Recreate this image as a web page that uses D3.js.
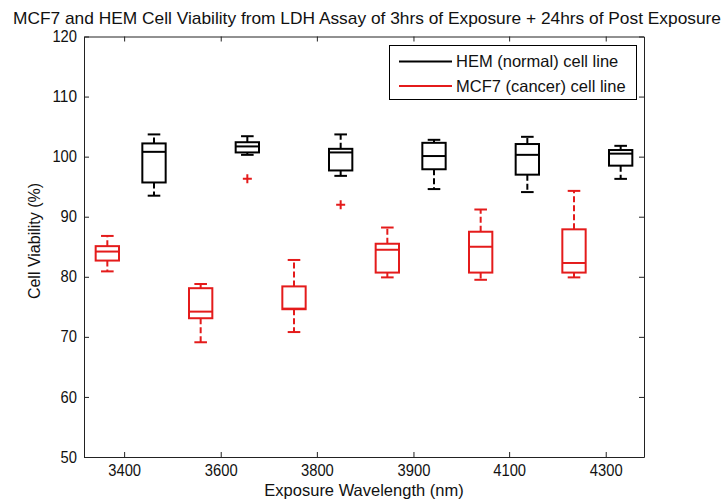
<!DOCTYPE html>
<html>
<head>
<meta charset="utf-8">
<script src="https://cdn.jsdelivr.net/npm/d3@7"></script>
<style>
  html, body { margin: 0; padding: 0; background: #fff; }
  svg { display: block; }
  text { font-family: "Liberation Sans", Arial, Helvetica, sans-serif; fill: #111; }
</style>
</head>
<body>
<svg id="chart" width="727" height="502"></svg>
<script>
// ---------- data ----------
const categories = ["3400", "3600", "3800", "3900", "4100", "4300"];
// tick positions on the box-index axis (boxes are at 1..12)
const tickPositions = [1.36, 3.43, 5.49, 7.56, 9.61, 11.68];
const yTicks = [50, 60, 70, 80, 90, 100, 110, 120];

// [lower whisker, Q1, median, Q3, upper whisker]
const hemStats = [
  [93.5, 95.7, 100.8, 102.2, 103.7],
  [100.3, 100.7, 101.7, 102.4, 103.4],
  [96.8, 97.7, 100.7, 101.3, 103.7],
  [94.6, 97.9, 100.1, 102.3, 102.8],
  [94.1, 97.0, 100.3, 102.1, 103.3],
  [96.3, 98.5, 100.5, 101.1, 101.8]
];
const hemOutliers = [[], [96.3], [92.0], [], [], []];

const mcf7Stats = [
  [80.9, 82.7, 84.2, 85.1, 86.8],
  [69.1, 73.1, 74.2, 78.1, 78.8],
  [70.8, 74.6, 74.7, 78.4, 82.8],
  [79.9, 80.7, 84.5, 85.5, 88.2],
  [79.5, 80.7, 85.0, 87.5, 91.2],
  [79.9, 80.7, 82.3, 87.9, 94.3]
];
const mcf7Outliers = [[], [], [], [], [], []];

const seriesNames = ["HEM (normal) cell line", "MCF7 (cancer) cell line"];
const titleText = "MCF7 and HEM Cell Viability from LDH Assay of 3hrs of Exposure + 24hrs of Post Exposure";
const xLabel = "Exposure Wavelength (nm)";
const yLabel = "Cell Viability (%)";

// ---------- layout ----------
const W = 727, H = 502;
const m = { left: 84, right: 644, top: 36.5, bottom: 457 };
const BLACK = "#000";
const RED = "#e41b1b";

const svg = d3.select("#chart");

const x = d3.scaleLinear().domain([0.5, 12.5]).range([m.left, m.right]);
const y = d3.scaleLinear().domain([50, 120]).range([m.bottom, m.top]);

// boxes
const boxes = [];
categories.forEach((c, i) => {
  boxes.push({ pos: 2 * i + 1, s: mcf7Stats[i], out: mcf7Outliers[i], color: RED });
  boxes.push({ pos: 2 * i + 2, s: hemStats[i], out: hemOutliers[i], color: BLACK });
});

const boxW = 0.5;   // in box-index units
const capW = 0.27;

const g = svg.append("g");
boxes.forEach(b => {
  const cx = x(b.pos);
  const hw = (x(boxW) - x(0)) / 2;
  const cw = (x(capW) - x(0)) / 2;
  const [lo, q1, med, q3, hi] = b.s;
  const bg = g.append("g").attr("stroke", b.color).attr("stroke-width", 2).attr("fill", "none");
  bg.append("line").attr("x1", cx).attr("x2", cx).attr("y1", y(q3)).attr("y2", y(hi))
    .attr("stroke-dasharray", "6,3");
  bg.append("line").attr("x1", cx).attr("x2", cx).attr("y1", y(q1)).attr("y2", y(lo))
    .attr("stroke-dasharray", "6,3");
  bg.append("line").attr("x1", cx - cw).attr("x2", cx + cw).attr("y1", y(hi)).attr("y2", y(hi));
  bg.append("line").attr("x1", cx - cw).attr("x2", cx + cw).attr("y1", y(lo)).attr("y2", y(lo));
  bg.append("rect").attr("x", cx - hw).attr("y", y(q3)).attr("width", 2 * hw).attr("height", y(q1) - y(q3));
  bg.append("line").attr("x1", cx - hw).attr("x2", cx + hw).attr("y1", y(med)).attr("y2", y(med));
  b.out.forEach(v => {
    const oy = y(v), s = 4.5;
    g.append("path").attr("d", `M${cx - s},${oy}H${cx + s}M${cx},${oy - s}V${oy + s}`)
      .attr("stroke", RED).attr("stroke-width", 2).attr("fill", "none");
  });
});

// axes (MATLAB-style box with inward ticks)
const tickLen = 5;
const axisColor = "#222";
const axBottom = d3.axisBottom(x).tickValues(tickPositions).tickFormat((d, i) => categories[i])
  .tickSizeInner(-tickLen).tickSizeOuter(0).tickPadding(8);
const axTop = d3.axisTop(x).tickValues(tickPositions).tickFormat("")
  .tickSizeInner(-tickLen).tickSizeOuter(0);
const axLeft = d3.axisLeft(y).tickValues(yTicks).tickFormat(d3.format("d"))
  .tickSizeInner(-tickLen).tickSizeOuter(0).tickPadding(7);
const axRight = d3.axisRight(y).tickValues(yTicks).tickFormat("")
  .tickSizeInner(-tickLen).tickSizeOuter(0);

function styleAxis(sel) {
  sel.selectAll("path, line").attr("stroke", axisColor).attr("stroke-width", 1);
  sel.selectAll("text").attr("fill", "#111")
    .style("font-family", '"Liberation Sans", Arial, sans-serif').style("font-size", "16px")
    .attr("textLength", function () { return this.textContent.length * 8.2; })
    .attr("lengthAdjust", "spacingAndGlyphs");
}
svg.append("g").attr("transform", `translate(0,${m.bottom})`).call(axBottom).call(styleAxis);
svg.append("g").attr("transform", `translate(0,${m.top})`).call(axTop).call(styleAxis);
svg.append("g").attr("transform", `translate(${m.left},0)`).call(axLeft).call(styleAxis);
svg.append("g").attr("transform", `translate(${m.right},0)`).call(axRight).call(styleAxis);

// titles
svg.append("text").attr("x", 367).attr("y", 24).attr("text-anchor", "middle")
  .style("font-size", "17px").attr("textLength", 708).attr("lengthAdjust", "spacingAndGlyphs")
  .text(titleText);
svg.append("text").attr("x", (m.left + m.right) / 2).attr("y", 496).attr("text-anchor", "middle")
  .style("font-size", "16.5px").text(xLabel);
svg.append("text").attr("transform", `translate(40,241) rotate(-90)`).attr("text-anchor", "middle")
  .style("font-size", "16px").text(yLabel);

// legend
const lg = svg.append("g");
lg.append("rect").attr("x", 389.5).attr("y", 45.5).attr("width", 247).attr("height", 54)
  .attr("fill", "#fff").attr("stroke", "#000").attr("stroke-width", 1);
[BLACK, RED].forEach((col, i) => {
  const ly = 61.5 + i * 24.5;
  lg.append("line").attr("x1", 399).attr("x2", 452).attr("y1", ly).attr("y2", ly)
    .attr("stroke", col).attr("stroke-width", 2);
  lg.append("text").attr("x", 456).attr("y", ly).attr("dy", "0.36em")
    .style("font-size", "16.5px").text(seriesNames[i]);
});
</script>
</body>
</html>
